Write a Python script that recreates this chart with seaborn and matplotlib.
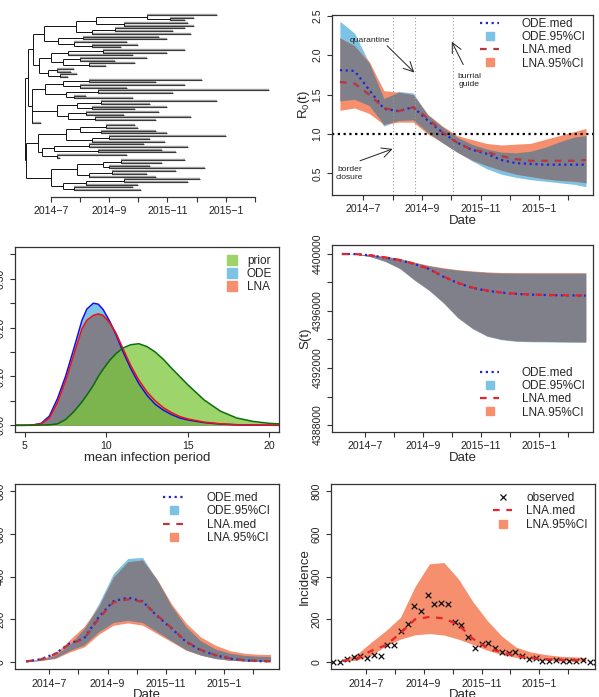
import numpy as np
import pandas as pd
import seaborn as sns
import matplotlib.pyplot as plt
from matplotlib.lines import Line2D
from matplotlib.collections import LineCollection
from matplotlib.transforms import Bbox, TransformedBbox

sns.set_style("ticks")
plt.rcParams['font.family'] = ['Liberation Sans', 'DejaVu Sans']
plt.rcParams['mathtext.fontset'] = 'custom'
plt.rcParams['mathtext.rm'] = 'Liberation Sans'
plt.rcParams['mathtext.it'] = 'Liberation Sans:italic'

# ---------------- data ----------------
# time axis in months after 2014-7
month_ticks = [0, 1, 2, 3, 4, 5, 6, 7]
month_labels = ['2014\u22127', '', '2014\u22129', '', '2015\u221211', '', '2015\u22121', '']

t_grid = [-0.8, -0.3, 0.2, 0.7, 1.2, 1.7, 2.2, 2.7, 3.2, 3.7, 4.2, 4.7, 5.2, 5.7, 6.2, 6.7, 7.2, 7.6]

# R0(t)
r0_ode_med = [1.81, 1.80, 1.56, 1.32, 1.29, 1.34, 1.17, 1.02, 0.89, 0.80, 0.75, 0.67, 0.63, 0.62, 0.61, 0.61, 0.61, 0.61]
r0_ode_lo = [1.42, 1.44, 1.36, 1.10, 1.17, 1.18, 1.02, 0.89, 0.77, 0.66, 0.56, 0.49, 0.45, 0.42, 0.40, 0.38, 0.36, 0.33]
r0_ode_hi = [2.43, 2.28, 1.90, 1.45, 1.54, 1.52, 1.24, 1.09, 0.96, 0.87, 0.81, 0.77, 0.76, 0.78, 0.83, 0.90, 0.96, 0.98]
r0_lna_med = [1.66, 1.64, 1.50, 1.33, 1.29, 1.34, 1.20, 1.02, 0.89, 0.80, 0.77, 0.72, 0.68, 0.66, 0.66, 0.66, 0.66, 0.67]
r0_lna_lo = [1.30, 1.33, 1.26, 1.12, 1.15, 1.15, 1.00, 0.89, 0.77, 0.67, 0.60, 0.54, 0.49, 0.46, 0.43, 0.41, 0.40, 0.38]
r0_lna_hi = [2.22, 2.12, 1.92, 1.55, 1.53, 1.50, 1.25, 1.10, 0.98, 0.93, 0.88, 0.86, 0.87, 0.88, 0.93, 0.98, 1.03, 1.07]
interventions = [1.0, 1.75, 3.05]

# S(t)
s_ode_med = [4400000, 4399990, 4399900, 4399750, 4399560, 4399300, 4398950, 4398400, 4397960, 4397620,
             4397420, 4397290, 4397200, 4397150, 4397120, 4397100, 4397090, 4397080]
s_ode_lo = [4400000, 4399980, 4399800, 4399460, 4398960, 4398150, 4397440, 4396550, 4395500, 4394750,
            4394220, 4393980, 4393870, 4393840, 4393830, 4393815, 4393805, 4393800]
s_ode_hi = [4400000, 4399995, 4399930, 4399810, 4399650, 4399390, 4399160, 4398990, 4398860, 4398770,
            4398700, 4398660, 4398650, 4398645, 4398645, 4398645, 4398645, 4398645]
s_lna_med = [4400000, 4399990, 4399905, 4399760, 4399570, 4399310, 4398960, 4398420, 4397980, 4397640,
             4397440, 4397300, 4397210, 4397160, 4397130, 4397110, 4397100, 4397090]
s_lna_lo = [4400000, 4399985, 4399820, 4399490, 4399000, 4398190, 4397480, 4396590, 4395540, 4394790,
            4394260, 4394020, 4393910, 4393880, 4393870, 4393855, 4393845, 4393840]
s_lna_hi = [4400000, 4399997, 4399945, 4399840, 4399690, 4399430, 4399200, 4399030, 4398900, 4398810,
            4398740, 4398700, 4398690, 4398685, 4398685, 4398685, 4398685, 4398685]

# prevalence curves (bottom-left)
inc_ode_med = [4, 14, 40, 88, 112, 212, 285, 302, 285, 216, 158, 95, 56, 33, 17, 9, 5, 4]
inc_ode_lo = [2, 9, 20, 55, 82, 143, 186, 196, 185, 143, 100, 58, 34, 18, 10, 6, 4, 3]
inc_ode_hi = [5, 12, 32, 82, 158, 275, 415, 485, 490, 385, 262, 165, 100, 62, 42, 32, 28, 26]
inc_lna_med = [4, 13, 38, 85, 110, 205, 280, 294, 283, 220, 160, 97, 58, 34, 18, 10, 6, 4]
inc_lna_lo = [2, 8, 17, 48, 72, 131, 173, 184, 173, 134, 95, 56, 33, 17, 9, 6, 4, 3]
inc_lna_hi = [6, 14, 40, 105, 168, 262, 398, 470, 478, 388, 272, 182, 118, 80, 54, 42, 37, 36]

# incidence (bottom-right)
lna_inc_med = [6, 18, 54, 80, 136, 200, 212, 205, 175, 110, 68, 45, 30, 20, 14, 11, 9, 9]
lna_inc_lo = [4, 10, 33, 77, 108, 128, 134, 127, 108, 83, 56, 36, 22, 14, 9, 6, 5, 5]
lna_inc_hi = [14, 38, 95, 148, 210, 353, 460, 466, 390, 283, 195, 122, 70, 48, 36, 28, 25, 22]
observed = [0, 2, 15, 25, 28, 22, 33, 28, 82, 82, 145, 180, 262, 238, 314, 270, 278, 272, 186, 175,
            118, 68, 84, 91, 67, 47, 42, 48, 30, 14, 22, 8, 5, 11, 7, 7, 5, 9, 0, 0]
obs_week = np.arange(len(observed))

# posterior / prior densities of the mean infection period
ip_x = [4.4, 5, 5.5, 6, 6.5, 7, 7.5, 8, 8.5, 8.8, 9.2, 9.5, 9.8, 10.2, 10.6, 11, 11.5, 12, 12.5, 13,
        13.5, 14, 14.5, 15, 16, 17, 18, 19, 20, 20.6]
dens_ode = [0, 0, 0.0008, 0.004, 0.019, 0.055, 0.101, 0.157, 0.215, 0.238, 0.25, 0.248, 0.237, 0.213, 0.185,
            0.152, 0.116, 0.085, 0.061, 0.043, 0.031, 0.022, 0.015, 0.011, 0.0055, 0.0025, 0.001, 0.0004, 0.0001, 0]
dens_lna = [0, 0, 0.0006, 0.003, 0.015, 0.047, 0.092, 0.145, 0.198, 0.215, 0.225, 0.228, 0.225, 0.21, 0.188,
            0.158, 0.122, 0.092, 0.068, 0.05, 0.036, 0.026, 0.018, 0.013, 0.0065, 0.003, 0.0013, 0.0005, 0.0002, 0]
dens_prior = [0, 0, 0, 0.0005, 0.001, 0.003, 0.012, 0.028, 0.048, 0.062, 0.082, 0.1, 0.115, 0.133, 0.147,
              0.158, 0.165, 0.167, 0.161, 0.15, 0.135, 0.117, 0.1, 0.083, 0.052, 0.029, 0.015, 0.008, 0.004, 0.003]

# time-scaled genealogy: [node time, children...]; a bare number is a tip time
tree_nodes = [-0.90,
    [-0.78,
        [-0.62,
            [-0.25,
                [0.85,
                    [1.55, [3.3, 5.7, [4.1, 4.9, 4.6]], [2.5, 4.7, 4.9]],
                    [1.4, [2.2, 4.6, 4.2], 4.8]],
                [0.25,
                    [1.1, 3.7, 4.0],
                    [0.8, 2.6, [1.4, 3.0, 2.4]]]],
            [-0.42,
                [0.0,
                    [0.6, [1.8, 4.6, 4.0], 2.8],
                    [0.4, [1.0, 3.3, 2.2], [1.3, 2.9, 1.9]]],
                [-0.1, [0.2, 0.8, 0.7], [0.3, 0.9, 0.6]]]],
        [-0.66,
            [-0.2,
                [0.4, [1.3, 5.2, 3.6], [1.0, 4.6, 2.6]],
                [0.5, [1.6, 7.5, 4.2], [0.8, 1.2, 2.8]]],
            [0.2,
                [0.9, [1.7, 5.7, 3.4], [1.4, 4.0, 2.9]],
                [0.6, [1.2, 3.7, 2.5], [1.5, 4.8, 3.6]]],
            -0.35]],
    [-0.86,
        [-0.45,
            [0.5,
                [1.0, [1.9, 2.9, 3.0], [1.7, 3.6, 4.0]],
                [1.4, [2.0, 6.0, 3.4], 3.9]],
            [-0.3,
                [0.1, [1.3, 3.2, 4.7], [1.6, 3.8, 4.3]],
                [0.2, 2.6, 0.3]]],
        [0.0,
            [0.9, [1.8, [2.4, 4.6, 3.8], [2.0, 3.4, 5.3]], [1.3, [2.1, 4.3, 3.3], 3.6]],
            [0.4, [1.2, [2.5, 5.1, 4.7], 3.0], [0.8, 2.8, 3.1]]]]]

# ---------------- style ----------------
SKY = '#7DC3E5'
SALMON = '#F68F6D'
OVERLAP = '#7F8089'
BLUE = '#2424D6'
RED = '#E8232B'
DARKRED = '#B8363C'
PRIOR = '#7CC63A'
PRIOR_LEG = '#9ED36A'
DOT = (0, (1, 1.6))
DASH = (0, (3, 3))

W, H = 599, 697
fig = plt.figure(figsize=(W / 100, H / 100), dpi=100)


def panel(l, t, r, b):
    return fig.add_axes([l / W, 1 - b / H, (r - l) / W, (b - t) / H])


def r_box(ax):
    for s in ax.spines.values():
        s.set_visible(True)
        s.set_linewidth(0.9)
        s.set_color('#333333')
    ax.tick_params(axis='both', direction='out', length=3.6, width=0.8, color='#333333',
                   labelsize=7.6, labelcolor='#222222', pad=3.2)


def y_ticks(ax, ticks, labels):
    ax.set_yticks(ticks)
    ax.set_yticklabels(labels, rotation=90, va='center')


def month_axis(ax):
    ax.set_xticks(month_ticks)
    ax.set_xticklabels(month_labels)


def clip_row(text, top_px, bottom_px):
    bb = TransformedBbox(Bbox.from_extents(0, 1 - bottom_px / H, 1, 1 - top_px / H), fig.transFigure)
    text.set_clip_box(bb)
    text.set_clip_on(True)


def r_legend(ax, handles, labels, left_px, top_px, hlen, tpad):
    ax.legend(handles, labels, loc='upper left', bbox_to_anchor=(left_px / W, 1 - top_px / H),
              bbox_transform=fig.transFigure, frameon=False, borderpad=0, borderaxespad=0,
              handlelength=hlen, handletextpad=tpad, labelspacing=0.1, fontsize=8.5)


def bands(ax, df):
    ax.fill_between(df['t'], df['ode_lo'], df['ode_hi'], color=SKY, lw=0)
    ax.fill_between(df['t'], df['lna_lo'], df['lna_hi'], color=SALMON, lw=0)
    lo = np.maximum(df['ode_lo'], df['lna_lo'])
    hi = np.minimum(df['ode_hi'], df['lna_hi'])
    ax.fill_between(df['t'], lo, hi, where=hi > lo, interpolate=True, color=OVERLAP, lw=0)


h_ode_med = Line2D([], [], color=BLUE, lw=1.6, linestyle=DOT)
h_ode_ci = Line2D([], [], color=SKY, marker='s', ms=5.5, linestyle='none')
h_lna_med = Line2D([], [], color=RED, lw=1.6, linestyle=DASH)
h_lna_ci = Line2D([], [], color=SALMON, marker='s', ms=5.5, linestyle='none')
four_labels = ['ODE.med', 'ODE.95%CI', 'LNA.med', 'LNA.95%CI']

# ---------------- panel 1: genealogy ----------------
ax1 = panel(15, 10, 279, 196.5)
segs = {'int': [], 'tip': []}


def walk(node, parent_t, counter):
    if not isinstance(node, list):
        y = counter[0]
        counter[0] += 1
        segs['tip'].append([(parent_t, y), (node, y)])
        return y
    node_t = node[0]
    ys = [walk(child, node_t, counter) for child in node[1:]]
    y = (ys[0] + ys[-1]) / 2
    segs['int'].append([(node_t, ys[0]), (node_t, ys[-1])])
    if parent_t is not None:
        segs['int'].append([(parent_t, y), (node_t, y)])
    return y


n_tips = [0]
walk(tree_nodes, None, n_tips)
n = n_tips[0]
ax1.add_collection(LineCollection(segs['tip'], colors='#9b9b9b', linewidths=1.7))
ax1.add_collection(LineCollection(segs['tip'], colors='#111111', linewidths=0.5))
ax1.add_collection(LineCollection(segs['int'], colors='#111111', linewidths=0.7))
step = 175 / (n - 1)
ax1.set_ylim(n - 1 + 6.5 / step, -5 / step)
ax1.set_xlim(-1.237, 7.83)
r_box(ax1)
for side in ['top', 'left', 'right']:
    ax1.spines[side].set_visible(False)
ax1.spines['bottom'].set_bounds(0, 7)
ax1.set_yticks([])
month_axis(ax1)

# ---------------- panel 2: R0(t) ----------------
r0 = pd.DataFrame({'t': t_grid, 'ode_med': r0_ode_med, 'ode_lo': r0_ode_lo, 'ode_hi': r0_ode_hi,
                   'lna_med': r0_lna_med, 'lna_lo': r0_lna_lo, 'lna_hi': r0_lna_hi})
ax2 = panel(332, 15, 593, 195)
bands(ax2, r0)
for tv in interventions:
    ax2.axvline(tv, color='#9a9a9a', lw=0.8, linestyle=(0, (1, 2)))
ax2.axhline(1.0, color='black', lw=1.6, linestyle=DOT)
sns.lineplot(data=r0, x='t', y='ode_med', ax=ax2, color=BLUE, lw=1.6, linestyle=DOT)
sns.lineplot(data=r0, x='t', y='lna_med', ax=ax2, color=DARKRED, lw=1.6, linestyle=DASH)
arrow = dict(arrowstyle='->,head_length=0.7,head_width=0.35', color='#222222', lw=0.7,
             shrinkA=0, shrinkB=0)
ax2.text(0.23, 2.18, 'quarantine', fontsize=6.1, ha='center', va='center', color='#222222')
ax2.annotate('', xy=(1.74, 1.78), xytext=(0.81, 2.12), arrowprops=arrow)
ax2.text(-0.47, 0.50, 'border\nclosure', fontsize=6.1, ha='center', va='center',
         linespacing=1.25, color='#222222')
ax2.annotate('', xy=(1.0, 0.81), xytext=(-0.11, 0.66), arrowprops=arrow)
ax2.text(3.61, 1.675, 'burrial\nguide', fontsize=6.1, ha='center', va='center',
         linespacing=1.25, color='#222222')
ax2.annotate('', xy=(3.02, 2.17), xytext=(3.41, 1.88), arrowprops=arrow)
ax2.set_xlim(-1.07, 7.84)
ax2.set_ylim(0.225, 2.51)
r_box(ax2)
month_axis(ax2)
y_ticks(ax2, [0.5, 1.0, 1.5, 2.0, 2.5], ['0.5', '1.0', '1.5', '2.0', '2.5'])
ax2.set_xlabel('Date', fontsize=9.5, labelpad=0.5)
ax2.set_ylabel(r'R$_\mathrm{0}$(t)', fontsize=9.5, labelpad=0.5)
r_legend(ax2, [h_ode_med, h_ode_ci, Line2D([], [], color=DARKRED, lw=1.6, linestyle=DASH), h_lna_ci],
         four_labels, 480, 18, 1.65, 1.9)

# ---------------- panel 3: densities ----------------
dens = pd.DataFrame({'x': ip_x, 'ode': dens_ode, 'lna': dens_lna, 'prior': dens_prior})
ax3 = panel(15, 247, 279, 432)
ax3.fill_between(dens['x'], 0, dens['ode'], color=SKY, lw=0)
ax3.fill_between(dens['x'], 0, dens['lna'], color=SALMON, lw=0)
ax3.fill_between(dens['x'], 0, np.minimum(dens['ode'], dens['lna']), color=OVERLAP, lw=0)
ax3.fill_between(dens['x'], 0, dens['prior'], color=PRIOR, alpha=0.75, lw=0)
sns.lineplot(data=dens, x='x', y='ode', ax=ax3, color='#1010EE', lw=1.1)
sns.lineplot(data=dens, x='x', y='lna', ax=ax3, color='#EE1010', lw=1.1)
sns.lineplot(data=dens, x='x', y='prior', ax=ax3, color='#0B6E0B', lw=1.1)
ax3.set_xlim(4.386, 20.6)
ax3.set_ylim(-0.0137, 0.365)
r_box(ax3)
ax3.set_xticks([5, 10, 15, 20])
ax3.set_xticklabels(['5', '10', '15', '20'])
y_ticks(ax3, [0, 0.05, 0.10, 0.15, 0.20, 0.25, 0.30, 0.35],
        ['0.00', '', '0.10', '', '0.20', '', '0.30', ''])
ax3.set_xlabel('mean infection period', fontsize=9.5, labelpad=0.3)
ax3.set_ylabel('')
clip_row(ax3.xaxis.label, 232, 464.7)
r_legend(ax3, [Line2D([], [], color=c, marker='s', ms=6.5, linestyle='none')
               for c in [PRIOR_LEG, SKY, SALMON]],
         ['prior', 'ODE', 'LNA'], 226.9, 255, 0.8, 0.9)

# ---------------- panel 4: S(t) ----------------
sus = pd.DataFrame({'t': t_grid, 'ode_med': s_ode_med, 'ode_lo': s_ode_lo, 'ode_hi': s_ode_hi,
                    'lna_med': s_lna_med, 'lna_lo': s_lna_lo, 'lna_hi': s_lna_hi})
ax4 = panel(332, 245, 593, 432)
bands(ax4, sus)
sns.lineplot(data=sus, x='t', y='ode_med', ax=ax4, color=BLUE, lw=1.6, linestyle=DOT)
sns.lineplot(data=sus, x='t', y='lna_med', ax=ax4, color=RED, lw=1.6, linestyle=DASH)
ax4.set_xlim(-1.14, 7.85)
ax4.set_ylim(4387510, 4400630)
r_box(ax4)
month_axis(ax4)
s_ticks = [4388000, 4390000, 4392000, 4394000, 4396000, 4398000, 4400000]
y_ticks(ax4, s_ticks, ['4388000', '', '4392000', '', '4396000', '', '4400000'])
ax4.set_xlabel('Date', fontsize=9.5, labelpad=0.5)
ax4.set_ylabel('S(t)', fontsize=9.5, labelpad=0.5)
clip_row(ax4.xaxis.label, 232, 464.7)
r_legend(ax4, [h_ode_med, h_ode_ci, h_lna_med, h_lna_ci], four_labels, 480, 367, 1.65, 1.9)

# ---------------- panel 5: curves with both CIs ----------------
prev = pd.DataFrame({'t': t_grid, 'ode_med': inc_ode_med, 'ode_lo': inc_ode_lo, 'ode_hi': inc_ode_hi,
                     'lna_med': inc_lna_med, 'lna_lo': inc_lna_lo, 'lna_hi': inc_lna_hi})
ax5 = panel(15, 484, 279, 669.3)
bands(ax5, prev)
sns.lineplot(data=prev, x='t', y='ode_med', ax=ax5, color=BLUE, lw=1.6, linestyle=DOT)
sns.lineplot(data=prev, x='t', y='lna_med', ax=ax5, color=DARKRED, lw=1.6, linestyle=DASH)
ax5.set_xlim(-1.18, 7.89)
ax5.set_ylim(-33, 833)
r_box(ax5)
month_axis(ax5)
y_ticks(ax5, [0, 200, 400, 600, 800], ['0', '200', '400', '600', '800'])
ax5.set_xlabel('Date', fontsize=9.5, labelpad=0.5)
ax5.set_ylabel('')
r_legend(ax5, [h_ode_med, h_ode_ci, Line2D([], [], color=DARKRED, lw=1.6, linestyle=DASH), h_lna_ci],
         four_labels, 163, 492.3, 1.8, 1.9)

# ---------------- panel 6: observed incidence ----------------
inc = pd.DataFrame({'t': t_grid, 'med': lna_inc_med, 'lo': lna_inc_lo, 'hi': lna_inc_hi})
obs = pd.DataFrame({'t': -1.12 + obs_week * 0.233, 'cases': observed})
ax6 = panel(331, 484, 595, 669.3)
ax6.fill_between(inc['t'], inc['lo'], inc['hi'], color=SALMON, lw=0)
sns.lineplot(data=inc, x='t', y='med', ax=ax6, color=RED, lw=1.6, linestyle=DASH)
sns.scatterplot(data=obs, x='t', y='cases', ax=ax6, marker='x', color='#111111', s=16, linewidth=0.9)
ax6.set_xlim(-1.20, 7.92)
ax6.set_ylim(-33, 833)
r_box(ax6)
month_axis(ax6)
y_ticks(ax6, [0, 200, 400, 600, 800], ['0', '200', '400', '600', '800'])
ax6.set_xlabel('Date', fontsize=9.5, labelpad=0.5)
ax6.set_ylabel('Incidence', fontsize=9.5, labelpad=0.5)
r_legend(ax6, [Line2D([], [], color='#111111', marker='x', ms=4.5, mew=0.9, linestyle='none'),
               h_lna_med, h_lna_ci],
         ['observed', 'LNA.med', 'LNA.95%CI'], 493, 492.3, 1.65, 1.16)

fig.savefig('out.png', dpi=100)
